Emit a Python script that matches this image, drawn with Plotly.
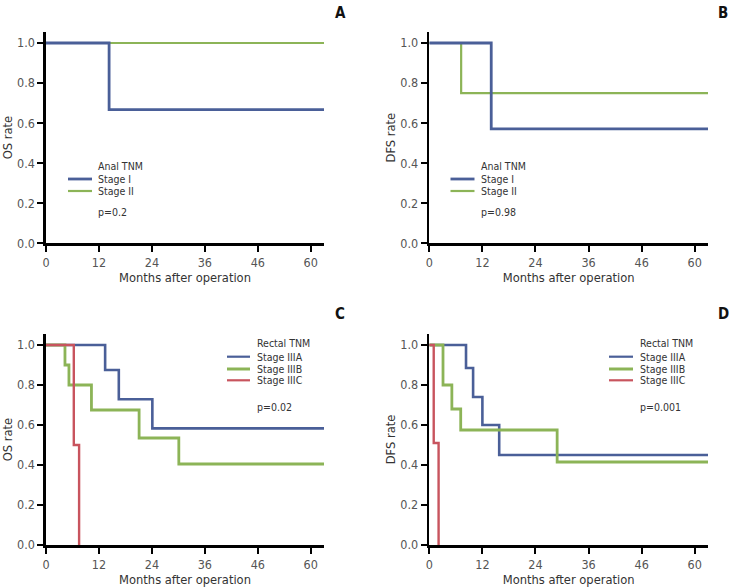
import plotly.graph_objects as go

W, H = 732, 587

# ---------------- data ----------------
tick_vals = [0, 12, 24, 36, 48, 60]
tick_text = ["0", "12", "24", "36", "46", "60"]
y_ticks = [0.0, 0.2, 0.4, 0.6, 0.8, 1.0]

# Panel A: OS, Anal TNM
A_I_x = [0, 14.3, 63]
A_I_y = [1.0, 0.667, 0.667]
A_II_x = [0, 63]
A_II_y = [1.0, 1.0]

# Panel B: DFS, Anal TNM
B_I_x = [0, 14.0, 63]
B_I_y = [1.0, 0.571, 0.571]
B_II_x = [0, 7.2, 63]
B_II_y = [1.0, 0.75, 0.75]

# Panel C: OS, Rectal TNM
C_A_x = [0, 13.4, 16.5, 24.1, 63]
C_A_y = [1.0, 0.875, 0.729, 0.583, 0.583]
C_B_x = [0, 4.3, 5.2, 10.3, 21.1, 30.1, 63]
C_B_y = [1.0, 0.9, 0.8, 0.675, 0.535, 0.405, 0.405]
C_C_x = [0, 6.3, 7.5]
C_C_y = [1.0, 0.5, 0.0]

# Panel D: DFS, Rectal TNM
D_A_x = [0, 8.3, 9.9, 12.0, 15.8, 63]
D_A_y = [1.0, 0.885, 0.74, 0.6, 0.45, 0.45]
D_B_x = [0, 3.1, 5.1, 7.1, 28.9, 63]
D_B_y = [1.0, 0.8, 0.68, 0.575, 0.415, 0.415]
D_C_x = [0, 1.0, 2.1]
D_C_y = [1.0, 0.51, 0.0]

p_values = ["p=0.2", "p=0.98", "p=0.02", "p=0.001"]
panel_letters = ["A", "B", "C", "D"]
y_titles = ["OS rate", "DFS rate", "OS rate", "DFS rate"]
legend_titles = ["Anal TNM", "Anal TNM", "Rectal TNM", "Rectal TNM"]

BLUE = "#4a5f98"
GREEN = "#8cb457"
RED = "#c8545e"
FONT = "Liberation Sans Narrow, DejaVu Sans Condensed, Arial Narrow, sans-serif"

def px(x):
    return x / W

def py(y):
    return 1 - y / H

fig = go.Figure()

# axis domains in pixels: (left, right, top, bottom)
boxes = [
    (46, 324, 32, 243.3),
    (429.3, 708, 32, 243.3),
    (46, 324, 334, 545),
    (429.3, 708, 334, 545),
]

series = [
    [("Stage II", A_II_x, A_II_y, GREEN, 2.2), ("Stage I", A_I_x, A_I_y, BLUE, 2.8)],
    [("Stage II", B_II_x, B_II_y, GREEN, 2.2), ("Stage I", B_I_x, B_I_y, BLUE, 2.8)],
    [("Stage IIIA", C_A_x, C_A_y, BLUE, 2.6), ("Stage IIIB", C_B_x, C_B_y, GREEN, 2.8),
     ("Stage IIIC", C_C_x, C_C_y, RED, 2.4)],
    [("Stage IIIA", D_A_x, D_A_y, BLUE, 2.6), ("Stage IIIB", D_B_x, D_B_y, GREEN, 2.8),
     ("Stage IIIC", D_C_x, D_C_y, RED, 2.4)],
]

legend_items = [
    [("Stage I", BLUE, 2.8), ("Stage II", GREEN, 2.2)],
    [("Stage I", BLUE, 2.8), ("Stage II", GREEN, 2.2)],
    [("Stage IIIA", BLUE, 2.2), ("Stage IIIB", GREEN, 3.0), ("Stage IIIC", RED, 2.2)],
    [("Stage IIIA", BLUE, 2.2), ("Stage IIIB", GREEN, 3.0), ("Stage IIIC", RED, 2.2)],
]

# legend layout in pixels: (line_x0, line_x1, text_x, title_y, item_ys, p_y)
legend_pos = [
    (68, 92, 96, 166, [179, 191], 212),
    (450.5, 474.5, 479, 166, [179, 191], 212),
    (227, 250, 255, 343, [356.7, 369, 380.3], 406.7),
    (609, 633, 638, 343, [356.7, 369, 380.3], 406.7),
]
letter_pos = [(340, 13), (723, 13), (340, 314), (723, 314)]

annotations = []
shapes = []
layout_axes = {}

for i in range(4):
    n = "" if i == 0 else str(i + 1)
    l, r, t, b = boxes[i]
    for name, xs, ys, col, lw in series[i]:
        fig.add_trace(go.Scatter(
            x=xs, y=ys, mode="lines", name=name, showlegend=False,
            line=dict(color=col, width=lw, shape="hv"),
            xaxis="x" + n, yaxis="y" + n, cliponaxis=True,
        ))
    layout_axes["xaxis" + n] = dict(
        domain=[px(l), px(r)], range=[0, 63], anchor="y" + n,
        tickvals=tick_vals, ticktext=tick_text,
        showline=True, linecolor="black", linewidth=2.6,
        ticks="outside", ticklen=6, tickwidth=2, tickcolor="black",
        showgrid=False, zeroline=False,
        tickfont=dict(family=FONT, size=12.5, color="#555555"),
        title=dict(text="Months after operation", standoff=0,
                   font=dict(family=FONT, size=12.8, color="#333333")),
        automargin=False, fixedrange=True,
    )
    layout_axes["yaxis" + n] = dict(
        domain=[py(b), py(t)], range=[0, 1.055], anchor="x" + n,
        tickvals=y_ticks, ticktext=[f"{v:.1f}" for v in y_ticks],
        showline=True, linecolor="black", linewidth=2.6,
        ticks="outside", ticklen=6, tickwidth=2, tickcolor="black",
        showgrid=False, zeroline=False,
        tickfont=dict(family=FONT, size=12.5, color="#555555"),
        title=dict(text=y_titles[i], standoff=2,
                   font=dict(family=FONT, size=12.8, color="#333333")),
        automargin=False, fixedrange=True,
    )

    # custom legend
    lx0, lx1, tx, ty, iys, pyy = legend_pos[i]
    annotations.append(dict(
        x=px(tx), y=py(ty), xref="paper", yref="paper", text=legend_titles[i],
        showarrow=False, xanchor="left", yanchor="middle",
        font=dict(family=FONT, size=10.5, color="#333333"),
    ))
    for (lab, col, lw), iy in zip(legend_items[i], iys):
        shapes.append(dict(type="line", xref="paper", yref="paper",
                           x0=px(lx0), x1=px(lx1), y0=py(iy), y1=py(iy),
                           line=dict(color=col, width=lw)))
        annotations.append(dict(
            x=px(tx), y=py(iy), xref="paper", yref="paper", text=lab,
            showarrow=False, xanchor="left", yanchor="middle",
            font=dict(family=FONT, size=10.5, color="#333333"),
        ))
    annotations.append(dict(
        x=px(tx), y=py(pyy), xref="paper", yref="paper", text=p_values[i],
        showarrow=False, xanchor="left", yanchor="middle",
        font=dict(family=FONT, size=10.5, color="#333333"),
    ))
    lxp, lyp = letter_pos[i]
    annotations.append(dict(
        x=px(lxp), y=py(lyp), xref="paper", yref="paper",
        text="<b>" + panel_letters[i] + "</b>",
        showarrow=False, xanchor="center", yanchor="middle",
        font=dict(family=FONT, size=15, color="#111111"),
    ))

fig.update_layout(
    width=W, height=H,
    margin=dict(l=0, r=0, t=0, b=0),
    paper_bgcolor="white", plot_bgcolor="white",
    showlegend=False,
    annotations=annotations, shapes=shapes,
    **layout_axes,
)

fig.write_html(
    "out.html",
    config={"displayModeBar": False, "staticPlot": True},
    post_script="document.body.style.margin='0';document.body.style.overflow='hidden';",
)
